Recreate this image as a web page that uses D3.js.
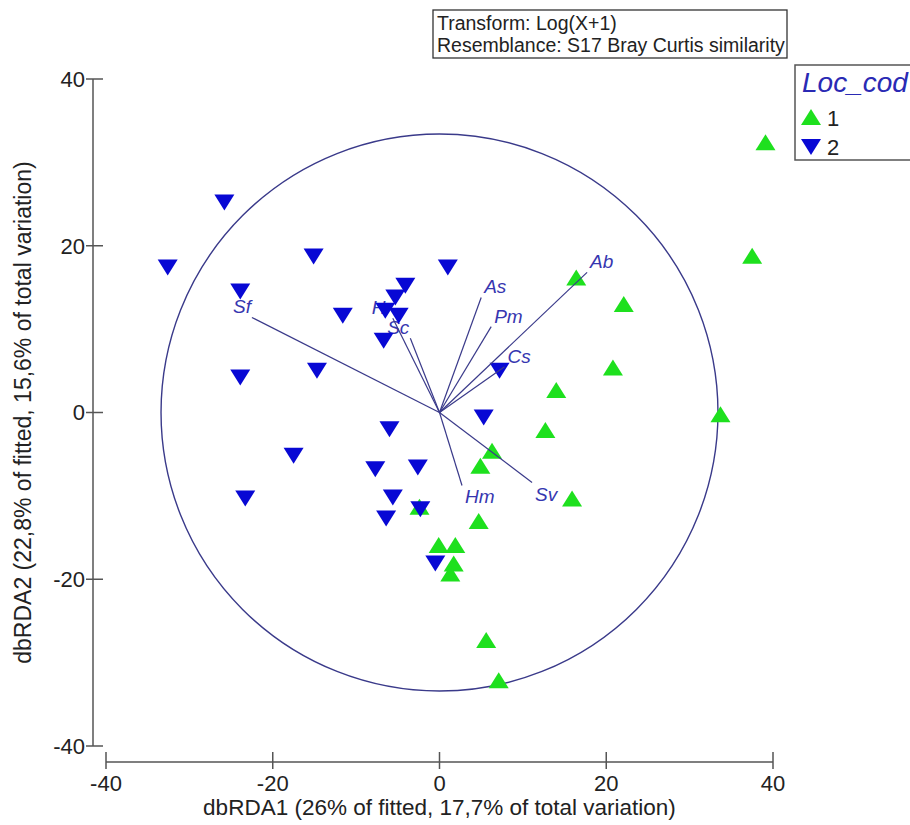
<!DOCTYPE html>
<html>
<head>
<meta charset="utf-8">
<script src="https://cdn.jsdelivr.net/npm/d3@7"></script>
<style>
  body { margin: 0; background: #fff; }
  svg { font-family: "Liberation Sans", Arial, sans-serif; }
</style>
</head>
<body>
<div id="chart"></div>
<script>
// ---------- data ----------
const ticks = [-40, -20, 0, 20, 40];

// Loc_cod 1 (green, up triangles)
const g1X = [39.1, 37.5, 16.4, 22.1, 20.8, 14.0, 12.7, 33.7, 15.9, 6.3, 4.9, -2.4, 4.7, -0.1, 1.9, 1.7, 1.3, 5.6, 7.1];
const g1Y = [32.4, 18.8, 16.2, 13.0, 5.4, 2.7, -2.1, -0.2, -10.3, -4.6, -6.4, -11.3, -13.0, -15.9, -15.9, -18.1, -19.3, -27.3, -32.1];

// Loc_cod 2 (blue, down triangles)
const g2X = [-25.8, -32.6, -23.9, -15.1, 1.0, -11.6, -4.1, -5.3, -6.5, -4.9, -6.7, -23.9, -14.7, 7.2, 5.3, -23.3, -17.5, -6.0, -7.7, -2.6, -5.6, -2.3, -6.4, -0.5];
const g2Y = [25.2, 17.4, 14.5, 18.7, 17.4, 11.6, 15.2, 13.8, 12.2, 11.6, 8.6, 4.2, 5.0, 5.0, -0.6, -10.3, -5.2, -2.0, -6.8, -6.6, -10.2, -11.6, -12.7, -18.1];

// vectors
const vecNames = ["Sf", "Hr", "Sc", "As", "Pm", "Cs", "Ab", "Hm", "Sv"];
const vecX = [-22.5, -5.6, -3.5, 5.0, 6.2, 7.8, 17.7, 2.7, 11.1];
const vecY = [11.4, 11.3, 8.9, 13.8, 10.3, 5.5, 16.8, -8.75, -8.4];

const circleR = 33.4;

// ---------- setup ----------
const width = 910, height = 825;
const svg = d3.select("#chart").append("svg")
  .attr("width", width).attr("height", height);

const x = d3.scaleLinear().domain([-40, 40]).range([106, 773]);
const y = d3.scaleLinear().domain([-40, 40]).range([746, 79]);

const axisColor = "#555";
const navy = "#3a3a8a";
const labelBlue = "#3636b0";
const green = "#1ee01e";
const blue = "#0808d4";

// ---------- axes ----------
const yAxisX = 93, xAxisY = 762;

svg.append("line")
  .attr("x1", yAxisX).attr("x2", yAxisX)
  .attr("y1", y(40)).attr("y2", y(-40))
  .attr("stroke", axisColor).attr("stroke-width", 1.5);

svg.selectAll(".ytick").data(ticks).enter().append("line")
  .attr("x1", yAxisX - 7).attr("x2", yAxisX + 10)
  .attr("y1", d => y(d)).attr("y2", d => y(d))
  .attr("stroke", axisColor).attr("stroke-width", 1.5);

svg.selectAll(".ylab").data(ticks).enter().append("text")
  .attr("x", 85).attr("y", d => y(d))
  .attr("dy", "0.36em")
  .attr("text-anchor", "end")
  .attr("font-size", 22).attr("fill", "#222")
  .text(d => d);

svg.append("line")
  .attr("x1", x(-40)).attr("x2", x(40))
  .attr("y1", xAxisY).attr("y2", xAxisY)
  .attr("stroke", axisColor).attr("stroke-width", 1.5);

svg.selectAll(".xtick").data(ticks).enter().append("line")
  .attr("x1", d => x(d)).attr("x2", d => x(d))
  .attr("y1", xAxisY - 10).attr("y2", xAxisY + 7)
  .attr("stroke", axisColor).attr("stroke-width", 1.5);

svg.selectAll(".xlab").data(ticks).enter().append("text")
  .attr("x", d => x(d)).attr("y", 791)
  .attr("text-anchor", "middle")
  .attr("font-size", 22).attr("fill", "#222")
  .text(d => d);

svg.append("text")
  .attr("x", x(0)).attr("y", 815)
  .attr("text-anchor", "middle")
  .attr("font-size", 22.5).attr("fill", "#222")
  .text("dbRDA1 (26% of fitted, 17,7% of total variation)");

svg.append("text")
  .attr("transform", `translate(31, ${y(0)}) rotate(-90)`)
  .attr("text-anchor", "middle")
  .attr("font-size", 23).attr("fill", "#222")
  .text("dbRDA2 (22,8% of fitted, 15,6% of total variation)");

// ---------- circle ----------
svg.append("ellipse")
  .attr("cx", x(0)).attr("cy", y(0))
  .attr("rx", x(circleR) - x(0)).attr("ry", y(0) - y(circleR))
  .attr("fill", "none").attr("stroke", navy).attr("stroke-width", 1.4);

// ---------- vector labels (under points) ----------
const vecs = vecNames.map((n, i) => ({ name: n, vx: vecX[i], vy: vecY[i] }));

svg.selectAll(".vlab").data(vecs).enter().append("text")
  .attr("x", d => x(d.vx) + (d.vx < 0 ? -1 : 3))
  .attr("y", d => y(d.vy) + (d.vy > 0 ? -4 : 18))
  .attr("text-anchor", d => d.vx < 0 ? "end" : "start")
  .attr("font-size", 19).attr("font-style", "italic")
  .attr("fill", labelBlue)
  .text(d => d.name);

// ---------- points ----------
const tw = 20, th = 16;
const triUp = (cx, cy) => `M${cx},${cy - th / 2}L${cx + tw / 2},${cy + th / 2}L${cx - tw / 2},${cy + th / 2}Z`;
const triDown = (cx, cy) => `M${cx - tw / 2},${cy - th / 2}L${cx + tw / 2},${cy - th / 2}L${cx},${cy + th / 2}Z`;

svg.selectAll(".g1").data(g1X).enter().append("path")
  .attr("d", (d, i) => triUp(x(d), y(g1Y[i])))
  .attr("fill", green);

svg.selectAll(".g2").data(g2X).enter().append("path")
  .attr("d", (d, i) => triDown(x(d), y(g2Y[i])))
  .attr("fill", blue);

// ---------- vectors ----------
svg.selectAll(".vec").data(vecs).enter().append("line")
  .attr("x1", x(0)).attr("y1", y(0))
  .attr("x2", d => x(d.vx)).attr("y2", d => y(d.vy))
  .attr("stroke", navy).attr("stroke-width", 1.2);

// ---------- info box ----------
svg.append("rect")
  .attr("x", 433).attr("y", 10).attr("width", 354).attr("height", 48)
  .attr("fill", "#fff").attr("stroke", "#333").attr("stroke-width", 1.3);
svg.append("text").attr("x", 437).attr("y", 30)
  .attr("font-size", 19.5).attr("fill", "#222").text("Transform: Log(X+1)");
svg.append("text").attr("x", 437).attr("y", 52)
  .attr("font-size", 19.5).attr("fill", "#222").text("Resemblance: S17 Bray Curtis similarity");

// ---------- legend ----------
svg.append("rect")
  .attr("x", 795).attr("y", 65).attr("width", 140).attr("height", 95)
  .attr("fill", "#fff").attr("stroke", "#555").attr("stroke-width", 1.5);
svg.append("text").attr("x", 802).attr("y", 92)
  .attr("font-size", 28).attr("font-style", "italic").attr("fill", "#2a2ab4")
  .text("Loc_cod");
svg.append("path").attr("d", triUp(811, 117)).attr("fill", green);
svg.append("text").attr("x", 827).attr("y", 126)
  .attr("font-size", 22).attr("fill", "#222").text("1");
svg.append("path").attr("d", triDown(811, 147)).attr("fill", blue);
svg.append("text").attr("x", 827).attr("y", 155)
  .attr("font-size", 22).attr("fill", "#222").text("2");
</script>
</body>
</html>
